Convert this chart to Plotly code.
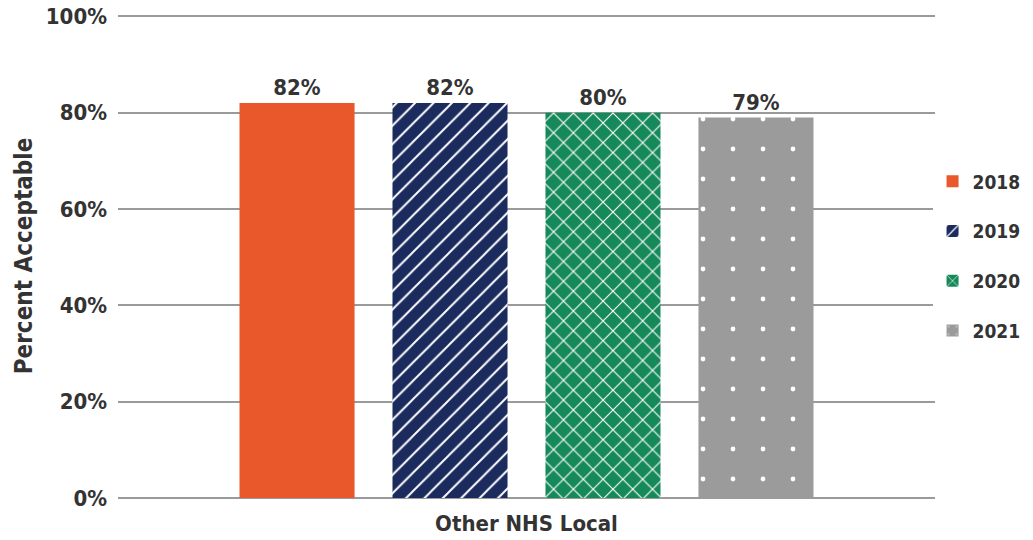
import plotly.graph_objects as go

categories = ["Other NHS Local"]
years = ["2018", "2019", "2020", "2021"]
values = [82, 82, 80, 79]
colors = ["#E8582A", "#1B2B5E", "#16895A", "#9B9B9B"]
patterns = ["", "/", "x", "."]
tick_vals = [0, 20, 40, 60, 80, 100]
tick_text = ["0%", "20%", "40%", "60%", "80%", "100%"]

FONT = "DejaVu Sans Condensed, Liberation Sans Narrow, DejaVu Sans, sans-serif"
TXT = "#333333"


def f(size):
    return dict(family=FONT, size=size, color=TXT, weight="bold")


fig = go.Figure()
for yr, v, c, p in zip(years, values, colors, patterns):
    marker = dict(color=c, line=dict(width=0))
    if p == "/":
        marker["pattern"] = dict(shape="/", fgcolor="white", bgcolor=c, size=13, solidity=0.15, fillmode="replace")
    elif p == "x":
        marker["pattern"] = dict(shape="x", fgcolor="white", bgcolor=c, size=14, solidity=0.15, fillmode="replace")
    elif p == ".":
        marker["pattern"] = dict(shape=".", fgcolor="white", bgcolor=c, size=30, solidity=0.02, fillmode="replace")
    fig.add_trace(go.Bar(
        x=categories, y=[v], name=yr, marker=marker, legendgroup=yr,
        text=[f"{v}%"], textposition="outside", cliponaxis=False,
        textfont=f(22),
    ))

fig.update_layout(
    width=1033, height=540,
    margin=dict(l=118, r=98, t=14, b=42, autoexpand=False),
    paper_bgcolor="white", plot_bgcolor="white",
    barmode="group", bargap=0.251, bargroupgap=0.248,
    font=f(20),
    legend=dict(x=0.997, y=0.5, yanchor="middle", xanchor="left",
                font=f(19), itemwidth=30, tracegroupgap=22),
    showlegend=True,
)
fig.update_yaxes(range=[0, 100.5], tickvals=tick_vals, ticktext=tick_text,
                 showgrid=True, gridcolor="#9a9a9a", gridwidth=1.5,
                 zeroline=True, zerolinecolor="#9a9a9a", zerolinewidth=1.5,
                 tickfont=f(22), ticks="", ticklen=0, automargin=False,
                 ticklabelstandoff=10,
                 title=dict(text="Percent Acceptable", font=f(24), standoff=6))
fig.update_xaxes(showline=False, tickfont=f(22), ticks="", automargin=False,
                 ticklabelstandoff=10)
fig.write_html("out.html")
